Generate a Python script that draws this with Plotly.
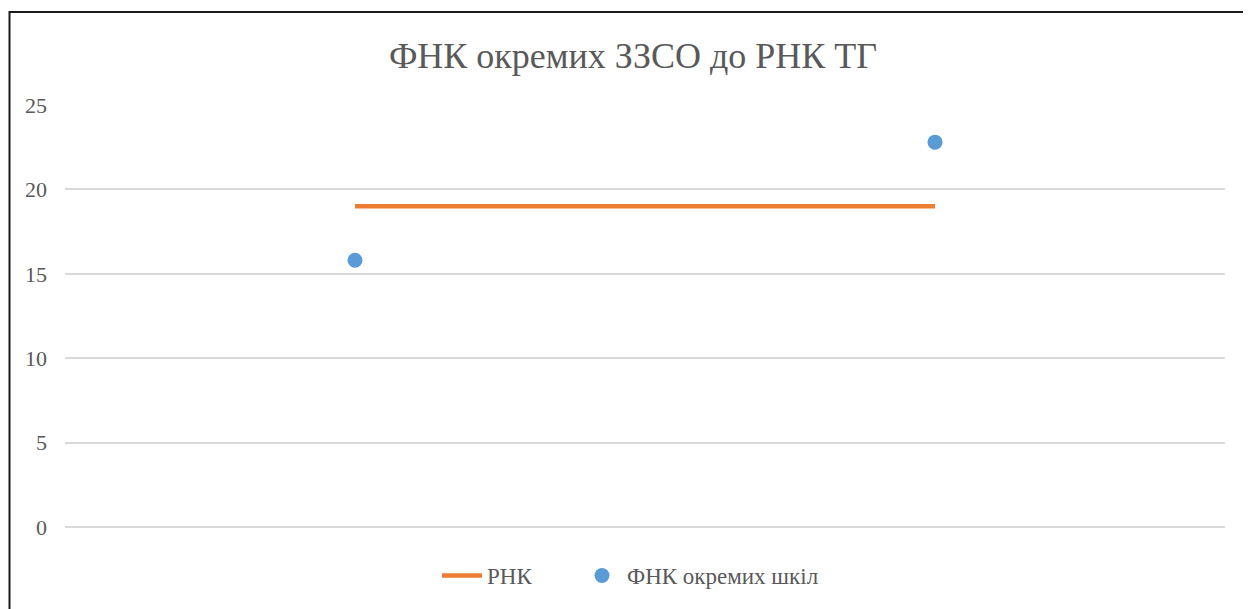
import plotly.graph_objects as go

categories = ["1", "2"]
rnk_values = [19, 19]
fnk_values = [15.8, 22.8]
y_ticks = [0, 5, 10, 15, 20, 25]

OFF = 8  # page body margin
W, H = 1251 - OFF, 609 - OFF
L, R, T, B = 65 - OFF, 26, 105 - OFF, 78
pw, ph = W - L - R, H - T - B

def px_to_paper_x(px):
    return (px - OFF - L) / pw

def px_to_paper_y(py):
    return (H - B - (py - OFF)) / ph

fig = go.Figure()
fig.add_trace(go.Scatter(
    x=categories, y=rnk_values, mode="lines", name="РНК" + "\u00a0" * 7,
    line=dict(color="#ED7D31", width=4.5),
))
fig.add_trace(go.Scatter(
    x=categories, y=fnk_values, mode="markers", name="ФНК окремих шкіл",
    marker=dict(color="#5B9BD5", size=15),
))

fig.update_layout(
    width=W, height=H,
    margin=dict(l=L, r=R, t=T, b=B),
    paper_bgcolor="white", plot_bgcolor="white",
    title=dict(text="ФНК окремих ЗЗСО до РНК ТГ", x=px_to_paper_x(633), xref="paper",
               xanchor="center",
               y=1 - (55 - OFF) / H, yanchor="middle",
               font=dict(family="Liberation Serif", size=36, color="#595959")),
    font=dict(family="Liberation Serif", color="#595959"),
    xaxis=dict(type="category", range=[-0.5, 1.5], showticklabels=False,
               showgrid=False, zeroline=False, showline=False, ticks=""),
    yaxis=dict(range=[0, 25], tickvals=y_ticks, showgrid=True,
               gridcolor="#D9D9D9", gridwidth=1.5, zeroline=True,
               zerolinecolor="#D9D9D9", zerolinewidth=1.5,
               showline=False, ticks="", ticklabelstandoff=17,
               tickfont=dict(family="Liberation Serif", size=22, color="#595959")),
    legend=dict(orientation="h", x=px_to_paper_x(437), xanchor="left",
                y=px_to_paper_y(580), yanchor="middle",
                font=dict(family="Liberation Serif", size=23, color="#595959"),
                itemwidth=40, bgcolor="rgba(0,0,0,0)"),
    shapes=[dict(type="rect", xref="paper", yref="paper",
                 x0=px_to_paper_x(9.5), x1=px_to_paper_x(1270),
                 y0=px_to_paper_y(660), y1=px_to_paper_y(11),
                 line=dict(color="#1a1a1a", width=2))],
    showlegend=True,
)

fig.write_html("out.html")
